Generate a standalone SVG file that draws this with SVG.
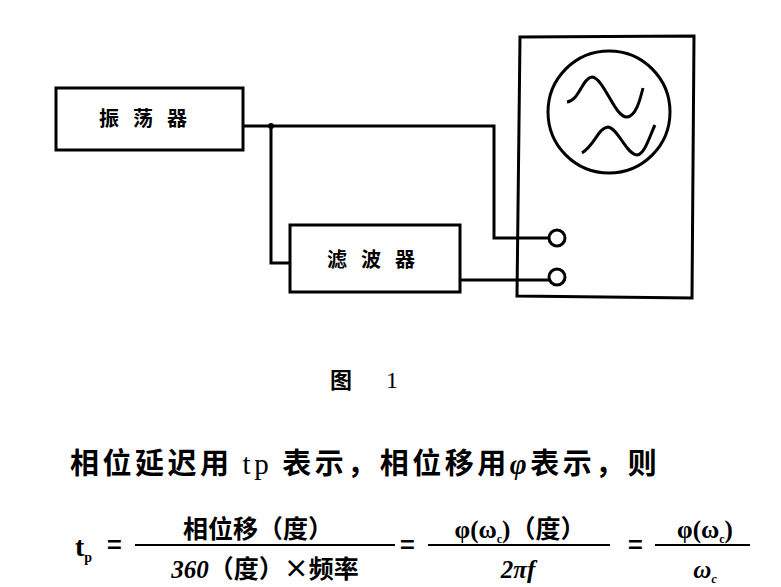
<svg xmlns="http://www.w3.org/2000/svg" width="781" height="587" viewBox="0 0 781 587">
<style>
.l{fill:none;stroke:#000;stroke-width:3}
.t{font-family:"Liberation Serif","Noto Sans CJK SC",serif;fill:#000}
.c{font-family:"Noto Sans CJK SC",sans-serif;font-weight:bold;fill:#000}
.s{font-family:"Liberation Serif",serif}
</style>
<rect width="781" height="587" fill="#fff"/>
<g id="connectors">
<path class="l" d="M243 126H494V238H549"/>
<path class="l" d="M271 126V263H290"/>
<path class="l" d="M460 280H549"/>
<circle cx="271" cy="126" r="3"/>
</g>
<g id="osc"><rect class="l" x="56" y="88" width="187" height="62"/><text class="c" x="150" y="126" font-size="20" text-anchor="middle" letter-spacing="14">振荡器</text></g>
<g id="filter"><rect class="l" x="290" y="225" width="170" height="67"/><text class="c" x="378" y="267" font-size="20" text-anchor="middle" letter-spacing="14">滤波器</text></g>
<g id="scope">
<path class="l" d="M520 37L694 36L692 298L517 296Z"/>
<circle class="l" cx="609" cy="112" r="61" stroke-width="3.5"/>
<path class="l" d="M567 102C580 100 582 78 592 77C604 78 615 118 627 117C636 116 640 100 643 88" stroke-width="2.5"/>
<path class="l" d="M582 153C595 145 598 128 608 127C618 128 626 154 637 155C645 154 650 135 655 125" stroke-width="2.5"/>
<circle class="l" cx="557" cy="238" r="8"/>
<circle class="l" cx="557" cy="277" r="8"/>
</g>
<text class="c" x="330" y="388" font-size="22" font-weight="normal">图</text>
<text class="t" x="386" y="388" font-size="24">1</text>
<text class="c" x="70" y="474" font-size="29" letter-spacing="3.5">相位延迟用 <tspan class="s" font-weight="normal">tp</tspan> 表示，相位移用<tspan class="s" font-style="italic">φ</tspan>表示，则</text>
<g class="c" font-size="25">
<text x="75" y="556" font-size="28" class="s">t<tspan font-size="14" dy="6">p</tspan></text>
<text x="107" y="554">=</text>
<text x="258" y="538" text-anchor="middle">相位移（度）</text>
<line x1="135" y1="545" x2="395" y2="545" stroke="#000" stroke-width="2"/>
<text x="265" y="578" text-anchor="middle"><tspan class="s" font-style="italic">360</tspan>（度）×频率</text>
<text x="400" y="554">=</text>
<text x="520" y="538" text-anchor="middle"><tspan class="s">φ(ω</tspan><tspan class="s" font-size="12" dy="5">c</tspan><tspan class="s" dy="-5">)</tspan>（度）</text>
<line x1="428" y1="545" x2="610" y2="545" stroke="#000" stroke-width="2"/>
<text x="518" y="578" text-anchor="middle" class="s" font-style="italic">2πf</text>
<text x="628" y="554">=</text>
<text x="705" y="538" text-anchor="middle" class="s">φ(ω<tspan font-size="12" dy="5">c</tspan><tspan dy="-5">)</tspan></text>
<line x1="655" y1="545" x2="750" y2="545" stroke="#000" stroke-width="2"/>
<text x="705" y="578" text-anchor="middle" class="s" font-style="italic">ω<tspan font-size="12" dy="5">c</tspan></text>
</g>
</svg>
